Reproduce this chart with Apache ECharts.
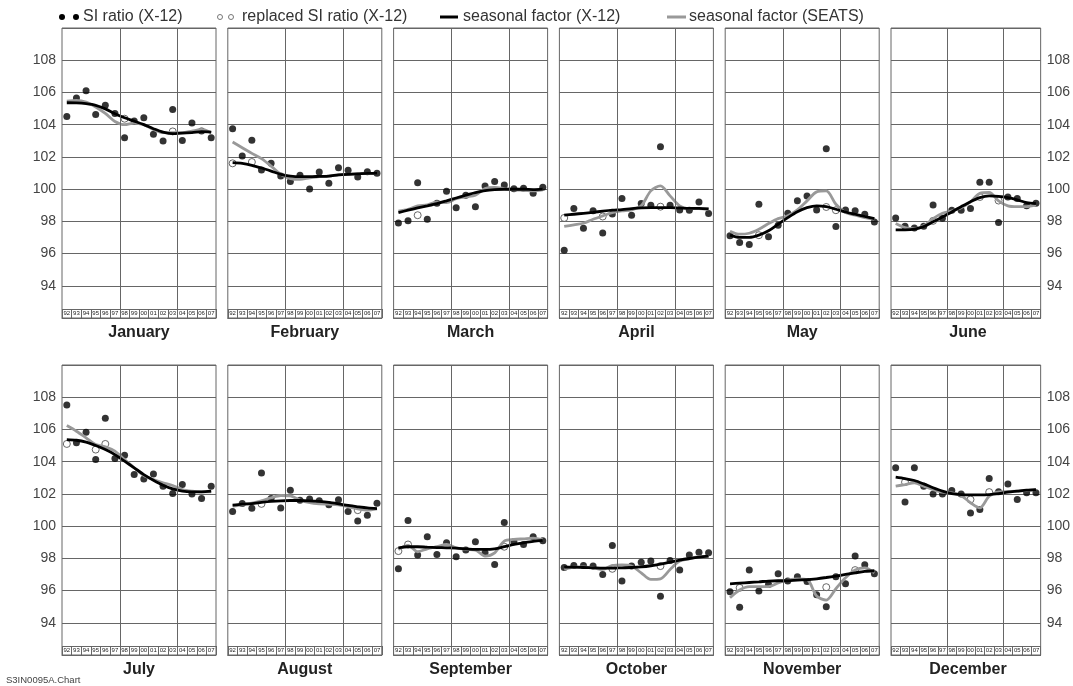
<!DOCTYPE html>
<html><head><meta charset="utf-8">
<script src="https://cdn.jsdelivr.net/npm/echarts@6/dist/echarts.min.js"></script>
<style>html,body{margin:0;padding:0;background:#fff}#c{width:1073px;height:686px}</style>
</head><body><div id="c"></div>
<script>
const months = ['January','February','March','April','May','June','July','August','September','October','November','December'];
const years = ['92','93','94','95','96','97','98','99','00','01','02','03','04','05','06','07'];
const yTickLabels = [94, 96, 98, 100, 102, 104, 106, 108];

const siRatio = [
  [104.5,105.65,106.1,104.63,105.2,104.7,103.19,104.22,104.43,103.4,102.98,104.94,103.02,104.1,103.6,103.19],
  [103.75,102.05,103.04,101.19,101.6,100.81,100.48,100.86,100.0,101.06,100.36,101.33,101.17,100.75,101.08,100.98],
  [97.9,98.03,100.4,98.13,99.12,99.86,98.85,99.62,98.91,100.19,100.48,100.26,100.03,100.05,99.74,100.11],
  [96.21,98.79,97.57,98.65,97.28,98.46,99.41,98.38,99.1,99.0,102.63,99.0,98.71,98.69,99.2,98.48],
  [97.1,96.68,96.56,99.06,97.04,97.76,98.5,99.27,99.58,98.71,102.51,97.68,98.71,98.65,98.44,97.96],
  [98.21,97.7,97.59,97.7,99.02,98.19,98.69,98.69,98.79,100.42,100.42,97.92,99.51,99.41,98.96,99.12],
  [107.52,105.17,105.83,104.13,106.7,104.2,104.4,103.2,102.93,103.24,102.48,102.02,102.58,102.0,101.71,102.48],
  [100.91,101.4,101.11,103.29,101.71,101.13,102.23,101.61,101.69,101.57,101.32,101.63,100.91,100.31,100.68,101.42],
  [97.35,100.35,98.2,99.34,98.24,98.96,98.1,98.51,99.03,98.34,97.62,100.22,99.03,98.86,99.34,99.09],
  [97.43,97.56,97.56,97.52,97.0,98.8,96.59,97.52,97.76,97.83,95.65,97.87,97.27,98.2,98.38,98.34],
  [95.92,94.97,97.27,95.97,96.38,97.04,96.59,96.85,96.56,95.74,94.99,96.85,96.42,98.14,97.6,97.04],
  [103.62,101.49,103.62,102.48,102.0,102.0,102.21,102.0,100.82,101.03,102.95,102.13,102.62,101.65,102.07,102.07]
];

const _ = null;
const replacedSI = [
  [_,_,_,_,_,_,104.37,_,_,_,_,103.58,_,_,_,_],
  [101.6,_,101.68,_,_,_,_,_,_,_,_,_,_,_,_,_],
  [_,_,98.38,_,_,_,_,_,_,_,_,_,_,_,_,_],
  [98.21,_,_,_,98.3,_,_,_,_,_,98.91,_,_,_,_,_],
  [_,_,_,97.14,_,_,_,_,_,_,98.89,98.69,_,_,_,_],
  [_,_,_,_,98.03,_,_,_,_,99.51,_,99.29,_,_,_,_],
  [105.1,_,_,104.75,105.1,_,_,_,_,_,_,_,_,_,_,_],
  [_,_,_,101.38,_,_,_,_,_,_,_,_,_,100.99,_,_],
  [98.45,98.86,_,_,_,_,_,_,_,_,_,98.72,_,_,_,_],
  [_,_,_,_,_,97.35,_,_,_,_,97.52,_,_,_,_,_],
  [_,96.17,_,_,_,_,_,_,_,_,96.21,_,_,97.27,_,_],
  [_,102.73,_,_,_,_,_,_,101.65,_,102.11,_,_,_,_,_]
];

const x12Factor = [
  [105.36,105.35,105.3,105.2,104.98,104.68,104.43,104.22,104.0,103.75,103.54,103.44,103.48,103.5,103.57,103.54],
  [101.64,101.6,101.48,101.31,101.12,100.92,100.81,100.77,100.77,100.79,100.81,100.88,100.92,100.94,100.98,100.98],
  [98.54,98.69,98.83,98.96,99.1,99.27,99.45,99.62,99.78,99.91,99.97,99.99,99.99,99.99,99.97,100.0],
  [98.38,98.44,98.5,98.56,98.63,98.69,98.73,98.79,98.83,98.85,98.85,98.85,98.83,98.81,98.81,98.77],
  [97.14,97.0,97.0,97.14,97.41,97.82,98.23,98.6,98.85,98.96,98.91,98.75,98.58,98.44,98.3,98.17],
  [97.47,97.47,97.51,97.68,97.97,98.27,98.58,98.91,99.22,99.47,99.58,99.55,99.47,99.33,99.16,99.1],
  [105.37,105.33,105.21,105.0,104.75,104.44,104.03,103.62,103.2,102.85,102.54,102.31,102.17,102.13,102.13,102.17],
  [101.3,101.36,101.4,101.47,101.53,101.57,101.59,101.59,101.57,101.53,101.47,101.38,101.28,101.2,101.13,101.09],
  [98.65,98.72,98.72,98.69,98.67,98.65,98.63,98.59,98.55,98.55,98.59,98.72,98.86,98.96,99.05,99.11],
  [97.45,97.45,97.43,97.41,97.39,97.39,97.41,97.43,97.47,97.54,97.64,97.76,97.89,97.99,98.07,98.14],
  [96.42,96.46,96.5,96.54,96.59,96.61,96.61,96.65,96.67,96.73,96.81,96.9,97.0,97.1,97.19,97.23],
  [103.04,102.95,102.83,102.62,102.38,102.17,102.02,101.96,101.94,101.94,101.96,102.02,102.11,102.17,102.23,102.27]
];

const seatsFactor = [
  [105.46,105.5,105.4,105.1,104.7,104.2,104.0,104.1,104.0,103.7,103.5,103.5,103.5,103.6,103.7,103.5],
  [102.92,102.57,102.22,101.89,101.43,100.92,100.65,100.6,100.7,100.78,100.81,100.88,100.92,100.96,100.98,100.98],
  [98.63,98.75,98.96,99.02,99.2,99.16,99.41,99.53,99.62,100.03,100.1,100.03,99.95,99.93,99.89,99.95],
  [97.68,97.78,97.88,98.13,98.34,98.54,98.65,98.71,98.96,99.89,100.2,99.58,98.96,98.79,98.79,98.75],
  [97.39,97.2,97.26,97.51,97.86,98.17,98.34,98.71,99.27,99.83,99.89,99.06,98.54,98.38,98.23,98.13],
  [97.86,97.61,97.55,97.72,98.17,98.5,98.65,98.85,99.2,99.74,99.79,99.27,98.96,98.91,98.91,99.02],
  [106.24,105.89,105.48,105.06,104.92,104.65,104.13,103.62,103.14,102.89,102.69,102.52,102.27,102.17,102.13,102.13],
  [101.24,101.32,101.42,101.57,101.76,101.9,101.87,101.61,101.45,101.38,101.36,101.32,101.2,101.07,100.99,101.07],
  [98.55,98.8,98.41,98.59,98.72,98.86,98.65,98.55,98.51,98.14,98.34,99.07,99.17,99.21,99.25,99.15],
  [97.31,97.45,97.47,97.41,97.31,97.56,97.6,97.52,97.1,96.69,96.73,97.31,97.83,97.97,98.1,98.14],
  [95.55,96.03,96.24,96.24,96.24,96.48,96.65,96.73,96.69,95.66,95.41,96.11,96.79,97.27,97.41,97.1],
  [102.48,102.58,102.69,102.48,102.27,102.11,102.07,101.9,101.45,101.13,101.86,102.13,102.15,102.17,102.21,102.27]
];

const legendLabels = ['SI ratio (X-12)', 'replaced SI ratio (X-12)', 'seasonal factor (X-12)', 'seasonal factor (SEATS)'];
const footnote = 'S3IN0095A.Chart';

const FONT = "'Liberation Sans', Arial, Helvetica, sans-serif";
const GRID_COLOR = '#666';
const chart = echarts.init(document.getElementById('c'), null, {renderer: 'canvas'});

const grids = [], xAxes = [], yAxes = [], series = [], graphics = [];
for (let m = 0; m < 12; m++) {
  const row = Math.floor(m / 6), col = m % 6;
  const left = 62 + col * 165.8;
  const top = row ? 365 : 28;
  grids.push({left: left, top: top, width: 154, height: 290, show: true, borderColor: GRID_COLOR, borderWidth: 1, backgroundColor: 'transparent'});
  xAxes.push({
    gridIndex: m, type: 'category', data: years, position: 'bottom', boundaryGap: true,
    axisLine: {show: true, lineStyle: {color: GRID_COLOR, width: 1}},
    axisTick: {show: true, inside: true, length: 9, interval: 0, lineStyle: {color: GRID_COLOR, width: 1}},
    axisLabel: {show: true, inside: true, interval: 0, fontSize: 6, margin: 2, color: '#222', fontFamily: FONT},
    splitLine: {show: false}
  });
  xAxes.push({gridIndex: m, type: 'value', min: -0.5, max: 15.5, position: 'top', show: false});
  yAxes.push({
    gridIndex: m, type: 'value', min: 92, max: 110, interval: 2,
    position: col === 5 ? 'right' : 'left',
    axisLine: {show: false}, axisTick: {show: false},
    axisLabel: {
      show: col === 0 || col === 5, margin: 6, fontSize: 14, color: '#444', fontFamily: FONT,
      formatter: function (v) { return yTickLabels.indexOf(v) >= 0 ? String(v) : ''; }
    },
    splitLine: {show: true, lineStyle: {color: GRID_COLOR, width: 1}}
  });
  const xi = 2 * m + 1;
  const pts = arr => arr.map((v, i) => [i, v]).filter(p => p[1] !== null);
  series.push({
    type: 'line', xAxisIndex: xi, yAxisIndex: m, name: legendLabels[3],
    data: pts(seatsFactor[m]), smooth: 0.3, showSymbol: false, silent: true,
    lineStyle: {color: '#999', width: 2.8}, itemStyle: {color: '#999'},
    markLine: {
      silent: true, symbol: ['none', 'none'], label: {show: false},
      lineStyle: {color: GRID_COLOR, width: 1, type: 'solid'},
      emphasis: {disabled: true},
      data: [{xAxis: 5.5}, {xAxis: 11.5}, {yAxis: 92.56}]
    }
  });
  series.push({
    type: 'line', xAxisIndex: xi, yAxisIndex: m, name: legendLabels[2],
    data: pts(x12Factor[m]), smooth: 0.3, showSymbol: false, silent: true,
    lineStyle: {color: '#000', width: 2.8}, itemStyle: {color: '#000'}
  });
  series.push({
    type: 'scatter', xAxisIndex: xi, yAxisIndex: m, name: legendLabels[0],
    data: pts(siRatio[m]), symbol: 'circle', symbolSize: 7, silent: true,
    itemStyle: {color: '#000'}
  });
  series.push({
    type: 'scatter', xAxisIndex: xi, yAxisIndex: m, name: legendLabels[1],
    data: pts(replacedSI[m]), symbol: 'circle', symbolSize: 7, silent: true,
    itemStyle: {color: '#fff', borderColor: '#444', borderWidth: 1}
  });
  graphics.push({
    type: 'text', x: left + 77, y: row ? 670 : 333,
    style: {text: months[m], textAlign: 'center', textVerticalAlign: 'middle', fontSize: 16, fontWeight: 'bold', fontFamily: FONT, fill: '#222'}
  });
}

// legend drawn as graphic elements
const LY = 17;
graphics.push(
  {type: 'circle', shape: {cx: 62, cy: LY, r: 3}, style: {fill: '#000'}},
  {type: 'circle', shape: {cx: 76, cy: LY, r: 3}, style: {fill: '#000'}},
  {type: 'text', x: 83, y: LY, style: {text: legendLabels[0], textVerticalAlign: 'middle', fontSize: 16, fontFamily: FONT, fill: '#333'}},
  {type: 'circle', shape: {cx: 220, cy: LY, r: 2.5}, style: {fill: '#fff', stroke: '#777', lineWidth: 1}},
  {type: 'circle', shape: {cx: 231, cy: LY, r: 2.5}, style: {fill: '#fff', stroke: '#777', lineWidth: 1}},
  {type: 'text', x: 242, y: LY, style: {text: legendLabels[1], textVerticalAlign: 'middle', fontSize: 16, fontFamily: FONT, fill: '#333'}},
  {type: 'line', shape: {x1: 440, y1: LY, x2: 458, y2: LY}, style: {stroke: '#000', lineWidth: 3}},
  {type: 'text', x: 463, y: LY, style: {text: legendLabels[2], textVerticalAlign: 'middle', fontSize: 16, fontFamily: FONT, fill: '#333'}},
  {type: 'line', shape: {x1: 667, y1: LY, x2: 686, y2: LY}, style: {stroke: '#999', lineWidth: 3}},
  {type: 'text', x: 689, y: LY, style: {text: legendLabels[3], textVerticalAlign: 'middle', fontSize: 16, fontFamily: FONT, fill: '#333'}},
  {type: 'text', x: 6, y: 680, style: {text: footnote, textVerticalAlign: 'middle', fontSize: 9.5, fontFamily: FONT, fill: '#444'}}
);

chart.setOption({
  animation: false,
  backgroundColor: '#fff',
  grid: grids,
  xAxis: xAxes,
  yAxis: yAxes,
  series: series,
  graphic: graphics
});
</script>
</body></html>
